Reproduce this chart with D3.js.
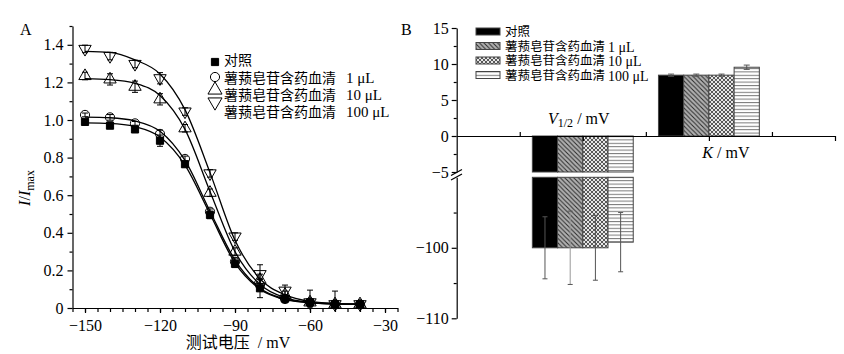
<!DOCTYPE html>
<html>
<head>
<meta charset="utf-8">
<title>I/Imax and V1/2, K</title>
<script src="https://d3js.org/d3.v7.min.js"></script>
<style>
body { margin: 0; background: #fff; }
svg text { font-family: "Liberation Serif", "Noto Sans CJK SC", serif; fill: #000; }
.axis path, .axis line { stroke: #000; stroke-width: 1.2; }
</style>
</head>
<body>
<svg id="chart" width="844" height="354"></svg>
<script>
// ---- panel A data ----
const voltages = [-150, -140, -130, -120, -110, -100, -90, -80, -70, -60, -50, -40];
const ctrlMean = [0.99, 0.97, 0.95, 0.89, 0.765, 0.495, 0.235, 0.105, 0.05, 0.03, 0.02, 0.02];
const ctrlErr  = [0.01, 0.01, 0.015, 0.03, 0.015, 0.02, 0.02, 0.05, 0.02, 0.065, 0.07, 0.01];
const dose1Mean = [1.027, 1.014, 0.982, 0.926, 0.793, 0.512, 0.246, 0.122, 0.048, 0.03, 0.02, 0.02];
const dose1Err  = [0.01, 0.015, 0.01, 0.02, 0.015, 0.015, 0.02, 0.03, 0.02, 0.02, 0.02, 0.01];
const dose10Mean = [1.234, 1.216, 1.177, 1.11, 0.956, 0.613, 0.30, 0.15, 0.07, 0.03, 0.02, 0.02];
const dose10Err  = [0.02, 0.03, 0.03, 0.03, 0.02, 0.02, 0.02, 0.03, 0.02, 0.02, 0.02, 0.01];
const dose100Mean = [1.378, 1.34, 1.298, 1.222, 1.045, 0.716, 0.38, 0.18, 0.092, 0.03, 0.02, 0.02];
const dose100Err  = [0.02, 0.02, 0.02, 0.03, 0.02, 0.02, 0.02, 0.05, 0.03, 0.02, 0.02, 0.01];
// fitted curves
const ctrlFit = [0.985, 0.982, 0.965, 0.91, 0.76, 0.50, 0.24, 0.10, 0.045, 0.028, 0.022, 0.02];
const dose1Fit = [1.015, 1.012, 0.995, 0.94, 0.785, 0.515, 0.255, 0.105, 0.048, 0.028, 0.022, 0.02];
const dose10Fit = [1.22, 1.215, 1.195, 1.13, 0.95, 0.62, 0.30, 0.125, 0.055, 0.03, 0.022, 0.02];
const dose100Fit = [1.365, 1.36, 1.32, 1.245, 1.055, 0.72, 0.36, 0.155, 0.07, 0.035, 0.024, 0.02];
const xTicksA = [-150, -120, -90, -60, -30];
const yTicksA = [0, 0.2, 0.4, 0.6, 0.8, 1.0, 1.2, 1.4];
const drugName = "薯蓣皂苷含药血清";
const ctrlName = "对照";
const doses = ["1 μL", "10 μL", "100 μL"];

// ---- panel B data ----
const paramNames = ["V", "K"];
const v12Mean = [-100.0, -100.0, -100.0, -99.2];
const v12Err  = [4.4, 5.2, 4.6, 4.2];
const kMean = [8.45, 8.45, 8.45, 9.55];
const kErr  = [0.15, 0.15, 0.15, 0.3];
const yTicksBUpper = [-5, 0, 5, 10, 15];
const yTicksBLower = [-110, -100];

const svg = d3.select("#chart");

// ================= Panel A =================
const xA = d3.scaleLinear().domain([-155, -25]).range([72.5, 397.5]);
const yA = d3.scaleLinear().domain([0, 1.5]).range([308, 26]);

svg.append("g").attr("class", "axis")
   .attr("transform", "translate(0,308)")
   .call(d3.axisBottom(xA).tickValues(d3.range(-155, -24, 5)).tickSize(4).tickFormat(""))
   .call(g => g.select(".domain").remove());
svg.append("g").attr("class", "axis")
   .attr("transform", "translate(0,308)")
   .call(d3.axisBottom(xA).tickValues(xTicksA).tickSize(5).tickSizeOuter(0).tickPadding(7))
   .selectAll("text").style("font-size", "16px");

svg.append("g").attr("class", "axis")
   .attr("transform", "translate(72.5,0)")
   .call(d3.axisLeft(yA).tickValues(d3.range(0.1, 1.51, 0.2)).tickSize(3).tickFormat(""))
   .call(g => g.select(".domain").remove());
svg.append("g").attr("class", "axis")
   .attr("transform", "translate(72.5,0)")
   .call(d3.axisLeft(yA).tickValues(yTicksA).tickSize(5).tickSizeOuter(0).tickPadding(4)
         .tickFormat(d => d === 0 ? "0" : d3.format(".1f")(d)))
   .selectAll("text").style("font-size", "16px");

const seriesA = [
  {mean: ctrlMean, err: ctrlErr, fit: ctrlFit, sym: d3.symbolSquare, size: 52, fill: "#000", rot: 0},
  {mean: dose1Mean, err: dose1Err, fit: dose1Fit, sym: d3.symbolCircle, size: 66, fill: "none", rot: 0},
  {mean: dose10Mean, err: dose10Err, fit: dose10Fit, sym: d3.symbolTriangle, size: 66, fill: "none", rot: 0},
  {mean: dose100Mean, err: dose100Err, fit: dose100Fit, sym: d3.symbolTriangle, size: 66, fill: "none", rot: 180}
];

const fitLine = d3.line()
  .x((d, i) => xA(voltages[i]))
  .y(d => yA(d))
  .curve(d3.curveMonotoneX);

seriesA.forEach(s => {
  svg.append("path").attr("d", fitLine(s.fit))
     .attr("fill", "none").attr("stroke", "#000").attr("stroke-width", 1.3);
});

seriesA.forEach(s => {
  const g = svg.append("g");
  voltages.forEach((v, i) => {
    const x = xA(v), y1 = yA(s.mean[i] + s.err[i]), y0 = yA(Math.max(0, s.mean[i] - s.err[i]));
    g.append("line").attr("x1", x).attr("x2", x).attr("y1", y1).attr("y2", y0)
     .attr("stroke", "#000").attr("stroke-width", 1);
    [y1, y0].forEach(yy => g.append("line").attr("x1", x - 3).attr("x2", x + 3)
      .attr("y1", yy).attr("y2", yy).attr("stroke", "#000").attr("stroke-width", 1));
  });
  g.selectAll("path.pt").data(s.mean).enter().append("path")
   .attr("d", d3.symbol().type(s.sym).size(s.size))
   .attr("transform", (d, i) => `translate(${xA(voltages[i])},${yA(d)}) rotate(${s.rot})`)
   .attr("fill", s.fill).attr("stroke", "#000").attr("stroke-width", 1);
});

// legend A
const legSymY = [62, 77, 90, 102];
const legTxtY = [60, 78, 95, 112];
seriesA.forEach((s, i) => {
  svg.append("path").attr("d", d3.symbol().type(s.sym).size(s.size + (i > 1 ? 20 : 0))())
     .attr("transform", `translate(215,${legSymY[i]}) rotate(${s.rot})`)
     .attr("fill", s.fill).attr("stroke", "#000").attr("stroke-width", 1);
  const t = svg.append("text").attr("x", 224).attr("y", legTxtY[i])
     .attr("dominant-baseline", "central").style("font-size", "14px");
  if (i === 0) t.text(ctrlName);
  else {
    t.append("tspan").text(drugName);
    t.append("tspan").attr("dx", 10).style("font-size", "15px").text(doses[i - 1]);
  }
});

// axis titles A
const yl = svg.append("text").attr("transform", "translate(30,188) rotate(-90)")
   .attr("text-anchor", "middle").style("font-size", "16px");
yl.append("tspan").style("font-style", "italic").text("I");
yl.append("tspan").text("/");
yl.append("tspan").style("font-style", "italic").text("I");
yl.append("tspan").attr("dy", 4).style("font-size", "12px").text("max");

svg.append("text").attr("x", 238).attr("y", 348).attr("text-anchor", "middle")
   .style("font-size", "16px").style("white-space", "pre").text("测试电压  / mV");

svg.append("text").attr("x", 20).attr("y", 35).style("font-size", "16px").text("A");
svg.append("text").attr("x", 401).attr("y", 35).style("font-size", "16px").text("B");

// ================= Panel B =================
const xB = d3.scaleLinear().domain([0, 3]).range([456.7, 835]);
const yU = d3.scaleLinear().domain([-5, 15]).range([172, 28]);
const yL = d3.scaleLinear().domain([-110, -90]).range([318.3, 177.3]);

const defs = svg.append("defs");
const pHatch = defs.append("pattern").attr("id", "hatch").attr("patternUnits", "userSpaceOnUse")
  .attr("width", 4.5).attr("height", 4.5);
pHatch.append("rect").attr("width", 4.5).attr("height", 4.5).attr("fill", "#b0b0b0");
pHatch.append("path").attr("d", "M-1,-1L5.5,5.5M-1,3.5L1,5.5M3.5,-1L5.5,1")
  .attr("stroke", "#2a2a2a").attr("stroke-width", 1);
const pCross = defs.append("pattern").attr("id", "cross").attr("patternUnits", "userSpaceOnUse")
  .attr("width", 4).attr("height", 4);
pCross.append("rect").attr("width", 4).attr("height", 4).attr("fill", "#e6e6e6");
pCross.append("path").attr("d", "M0,0L4,4M4,0L0,4")
  .attr("stroke", "#333").attr("stroke-width", 0.8);
const pHoriz = defs.append("pattern").attr("id", "horiz").attr("patternUnits", "userSpaceOnUse")
  .attr("width", 4).attr("height", 3.4);
pHoriz.append("rect").attr("width", 4).attr("height", 3.4).attr("fill", "#fff");
pHoriz.append("line").attr("x1", 0).attr("x2", 4).attr("y1", 0.5).attr("y2", 0.5)
  .attr("stroke", "#777").attr("stroke-width", 1);
const fillsB = ["#000", "url(#hatch)", "url(#cross)", "url(#horiz)"];
const barW = 0.2;

// V1/2 bars (broken axis)
v12Mean.forEach((v, i) => {
  const x0 = xB(1 - 2 * barW + i * barW), w = xB(barW) - xB(0);
  svg.append("rect").attr("x", x0).attr("y", yU(0)).attr("width", w).attr("height", yU(-5) - yU(0))
     .attr("fill", fillsB[i]).attr("stroke", "#444").attr("stroke-width", 1);
  svg.append("rect").attr("x", x0).attr("y", yL(-90)).attr("width", w).attr("height", yL(v) - yL(-90))
     .attr("fill", fillsB[i]).attr("stroke", "#444").attr("stroke-width", 1);
  const cx = x0 + w / 2;
  svg.append("line").attr("x1", cx).attr("x2", cx).attr("y1", yL(v + v12Err[i])).attr("y2", yL(v - v12Err[i]))
     .attr("stroke", i === 1 ? "#999" : "#555").attr("stroke-width", 1);
  [v + v12Err[i], v - v12Err[i]].forEach(e => svg.append("line")
     .attr("x1", cx - 2.5).attr("x2", cx + 2.5).attr("y1", yL(e)).attr("y2", yL(e))
     .attr("stroke", "#555").attr("stroke-width", 1));
});

// K bars
kMean.forEach((v, i) => {
  const x0 = xB(2 - 2 * barW + i * barW), w = xB(barW) - xB(0);
  svg.append("rect").attr("x", x0).attr("y", yU(v)).attr("width", w).attr("height", yU(0) - yU(v))
     .attr("fill", fillsB[i]).attr("stroke", "#444").attr("stroke-width", 1);
  const cx = x0 + w / 2;
  svg.append("line").attr("x1", cx).attr("x2", cx).attr("y1", yU(v + kErr[i])).attr("y2", yU(v - kErr[i]))
     .attr("stroke", "#555").attr("stroke-width", 1);
  [v + kErr[i], v - kErr[i]].forEach(e => svg.append("line")
     .attr("x1", cx - 3).attr("x2", cx + 3).attr("y1", yU(e)).attr("y2", yU(e))
     .attr("stroke", "#555").attr("stroke-width", 1));
});

// B axes
svg.append("g").attr("class", "axis")
   .attr("transform", `translate(0,${yU(0)})`)
   .call(d3.axisBottom(xB).tickValues([1, 2, 3]).tickSize(5).tickSizeOuter(0).tickFormat(""));
svg.append("g").attr("class", "axis")
   .attr("transform", `translate(0,${yU(0)})`)
   .call(d3.axisTop(xB).tickValues([0.5, 1.5, 2.5]).tickSize(4).tickFormat(""))
   .call(g => g.select(".domain").remove());

svg.append("g").attr("class", "axis")
   .attr("transform", "translate(456.7,0)")
   .call(d3.axisLeft(yU).tickValues(d3.range(-2.5, 15, 5)).tickSize(3).tickFormat(""))
   .call(g => g.select(".domain").remove());
svg.append("g").attr("class", "axis")
   .attr("transform", "translate(456.7,0)")
   .call(d3.axisLeft(yU).tickValues(yTicksBUpper).tickSize(5).tickSizeOuter(0).tickPadding(3))
   .selectAll("text").style("font-size", "16px");
svg.append("g").attr("class", "axis")
   .attr("transform", "translate(456.7,0)")
   .call(d3.axisLeft(yL).tickValues([-105, -95]).tickSize(3).tickFormat(""))
   .call(g => g.select(".domain").remove());
svg.append("g").attr("class", "axis")
   .attr("transform", "translate(456.7,0)")
   .call(d3.axisLeft(yL).tickValues(yTicksBLower).tickSize(5).tickSizeOuter(0).tickPadding(3))
   .selectAll("text").style("font-size", "16px");

// break marks
[172.5, 177].forEach(yy => svg.append("line")
   .attr("x1", 451).attr("x2", 462).attr("y1", yy + 3).attr("y2", yy - 3)
   .attr("stroke", "#000").attr("stroke-width", 1.2));

// category labels
const lv = svg.append("text").attr("x", xB(1) - 4).attr("y", 124).attr("text-anchor", "middle")
   .style("font-size", "16px");
lv.append("tspan").style("font-style", "italic").text(paramNames[0]);
lv.append("tspan").attr("dy", 3).style("font-size", "12px").text("1/2");
lv.append("tspan").attr("dy", -3).style("white-space", "pre").text(" / mV");
const lk = svg.append("text").attr("x", xB(2) + 17).attr("y", 158).attr("text-anchor", "middle")
   .style("font-size", "16px");
lk.append("tspan").style("font-style", "italic").text(paramNames[1]);
lk.append("tspan").style("white-space", "pre").text(" / mV");

// legend B
const legBY = [31.5, 46, 60.5, 75];
fillsB.forEach((f, i) => {
  svg.append("rect").attr("x", 476).attr("y", legBY[i] - 3.5).attr("width", 24).attr("height", 7)
     .attr("fill", f).attr("stroke", "#444").attr("stroke-width", 1);
  const t = svg.append("text").attr("x", 505).attr("y", legBY[i] + 0.5)
     .attr("dominant-baseline", "central").style("font-size", "12.5px");
  if (i === 0) t.text(ctrlName);
  else {
    t.append("tspan").text(drugName);
    t.append("tspan").attr("dx", 3).style("font-size", "14px").text(doses[i - 1]);
  }
});
</script>
</body>
</html>
